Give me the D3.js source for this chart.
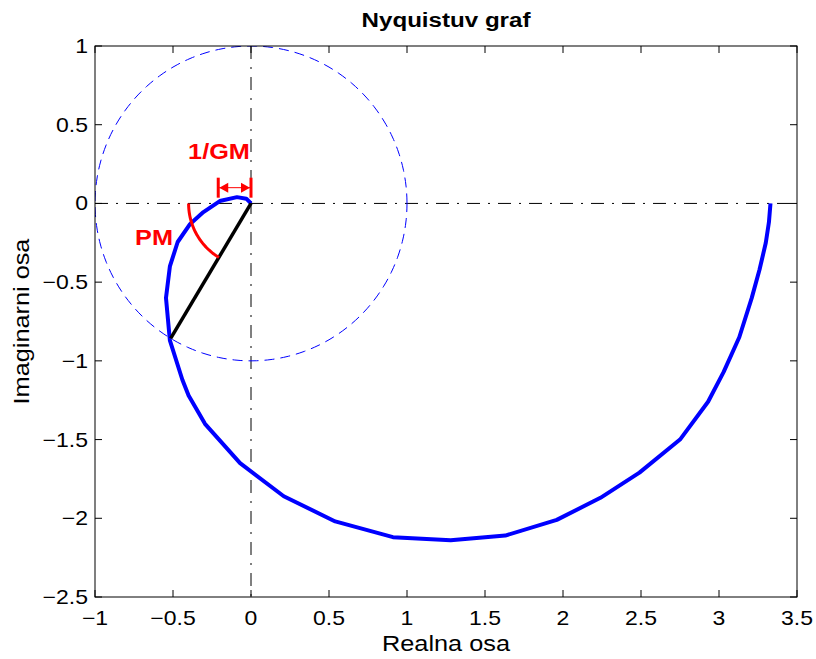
<!DOCTYPE html>
<html>
<head>
<meta charset="utf-8">
<script src="https://cdn.jsdelivr.net/npm/d3@7"></script>
<style>
  body { margin: 0; background: #fff; }
  svg { display: block; font-family: "Liberation Sans", Arial, Helvetica, sans-serif; }
</style>
</head>
<body>
<div id="container"></div>
<script>
const width = 816, height = 659;
const margin = {top: 46, right: 19, bottom: 62, left: 95};

const re = [3.33, 3.32, 3.30, 3.26, 3.21, 3.13, 3.03, 2.93, 2.75, 2.49, 2.24, 1.96, 1.63, 1.28, 0.91, 0.54, 0.21, -0.07, -0.295, -0.40, -0.44, -0.52, -0.545, -0.52, -0.47, -0.39, -0.305, -0.2, -0.09, -0.03, 0];
const im = [0, -0.12, -0.25, -0.42, -0.6, -0.85, -1.07, -1.26, -1.5, -1.71, -1.87, -2.01, -2.11, -2.14, -2.12, -2.02, -1.86, -1.65, -1.40, -1.22, -1.12, -0.87, -0.6, -0.40, -0.245, -0.13, -0.055, 0.015, 0.04, 0.03, 0];

// stability margins
const pmPoint = [-0.515, -0.857];   // crossing with the unit circle
const pmDeg = 59;                    // phase margin, degrees
const pmRadius = 0.4;                // radius of the drawn PM arc
const gmCross = -0.21;               // crossing of the negative real axis (1/GM)
const gmMarkY = 0.1;

const xTicks = [-1, -0.5, 0, 0.5, 1, 1.5, 2, 2.5, 3, 3.5];
const yTicks = [1, 0.5, 0, -0.5, -1, -1.5, -2, -2.5];

const fmt = v => String(v).replace("-", "\u2212");
const SX = 1.15; // the original font runs wider than Liberation Sans

const svg = d3.select("#container").append("svg")
    .attr("width", width)
    .attr("height", height);

const x = d3.scaleLinear().domain([-1, 3.5]).range([margin.left, width - margin.right]);
const y = d3.scaleLinear().domain([-2.5, 1]).range([height - margin.bottom, margin.top]);

const x0 = x.range()[0], x1 = x.range()[1], y0 = y.range()[1], y1 = y.range()[0];

// text placed by translate, optionally rotated, stretched along its own direction
function txt(parent, px, py, s, size, opts = {}) {
  return parent.append("text")
      .attr("transform", `translate(${px},${py}) rotate(${opts.rot || 0}) scale(${SX},1)`)
      .attr("text-anchor", opts.anchor || "middle")
      .attr("font-size", size)
      .attr("font-weight", opts.bold ? "bold" : null)
      .attr("fill", opts.fill || "#000")
      .text(s);
}

// clip to the axes box
svg.append("clipPath").attr("id", "box")
  .append("rect").attr("x", x0).attr("y", y0).attr("width", x1 - x0).attr("height", y1 - y0);

const plot = svg.append("g").attr("clip-path", "url(#box)");

// dash-dot axes through the origin
plot.append("line")
    .attr("x1", x0).attr("x2", x1).attr("y1", y(0)).attr("y2", y(0))
    .attr("stroke", "#000").attr("stroke-width", 1).attr("stroke-dasharray", "13,8,2,8");
plot.append("line")
    .attr("x1", x(0)).attr("x2", x(0)).attr("y1", y0).attr("y2", y1)
    .attr("stroke", "#000").attr("stroke-width", 1).attr("stroke-dasharray", "13,8,2,8");

// unit circle
const line = d3.line().x(d => x(d[0])).y(d => y(d[1]));
const circ = d3.range(0, 361, 2).map(a => [Math.cos(a * Math.PI / 180), Math.sin(a * Math.PI / 180)]);
plot.append("path")
    .attr("d", line(circ))
    .attr("fill", "none").attr("stroke", "#0000ff").attr("stroke-width", 1)
    .attr("stroke-dasharray", "10,6");

// nyquist curve
plot.append("path")
    .attr("d", line(re.map((r, i) => [r, im[i]])))
    .attr("fill", "none").attr("stroke", "#0000ff").attr("stroke-width", 4)
    .attr("stroke-linejoin", "round");

// PM: line to the unit-circle crossing and the arc
plot.append("path")
    .attr("d", line([[0, 0], pmPoint]))
    .attr("stroke", "#000").attr("stroke-width", 3.5);

const pmArc = d3.range(180, 180 + pmDeg + 0.1, 1)
    .map(a => [pmRadius * Math.cos(a * Math.PI / 180), pmRadius * Math.sin(a * Math.PI / 180)]);
plot.append("path")
    .attr("d", line(pmArc))
    .attr("fill", "none").attr("stroke", "#ff0000").attr("stroke-width", 3);

// 1/GM marker
const red = "#ff0000";
const gy = y(gmMarkY);
[gmCross, 0].forEach(v => {
  plot.append("line")
      .attr("x1", x(v)).attr("x2", x(v)).attr("y1", gy - 10).attr("y2", gy + 10)
      .attr("stroke", red).attr("stroke-width", 3);
});
plot.append("line")
    .attr("x1", x(gmCross)).attr("x2", x(0)).attr("y1", gy).attr("y2", gy)
    .attr("stroke", red).attr("stroke-width", 1);
plot.append("path")
    .attr("d", `M${x(gmCross) + 1},${gy} l9,-5 v10 z M${x(0) - 1},${gy} l-9,-5 v10 z`)
    .attr("fill", red);

txt(svg, 219, 159, "1/GM", 22, {bold: true, fill: red});
txt(svg, 154, 245, "PM", 22, {bold: true, fill: red});

// box and inside ticks on all four sides
const tl = 7;
const ax = svg.append("g").attr("stroke", "#000").attr("stroke-width", 1).attr("fill", "none");
ax.append("rect").attr("x", x0).attr("y", y0).attr("width", x1 - x0).attr("height", y1 - y0);
xTicks.forEach(t => {
  ax.append("line").attr("x1", x(t)).attr("x2", x(t)).attr("y1", y1).attr("y2", y1 - tl);
  ax.append("line").attr("x1", x(t)).attr("x2", x(t)).attr("y1", y0).attr("y2", y0 + tl);
});
yTicks.forEach(t => {
  ax.append("line").attr("x1", x0).attr("x2", x0 + tl).attr("y1", y(t)).attr("y2", y(t));
  ax.append("line").attr("x1", x1).attr("x2", x1 - tl).attr("y1", y(t)).attr("y2", y(t));
});

const xl = svg.append("g");
xTicks.forEach(t => txt(xl, x(t), y1 + 28, fmt(t), 20));
const yl = svg.append("g");
yTicks.forEach(t => txt(yl, x0 - 7, y(t) + 7, fmt(t), 20, {anchor: "end"}));

// title and axis labels
txt(svg, (x0 + x1) / 2, 27, "Nyquistuv graf", 21, {bold: true});
txt(svg, (x0 + x1) / 2, 651, "Realna osa", 22);
txt(svg, 29, (y0 + y1) / 2, "Imaginarni osa", 22, {rot: -90});
</script>
</body>
</html>
